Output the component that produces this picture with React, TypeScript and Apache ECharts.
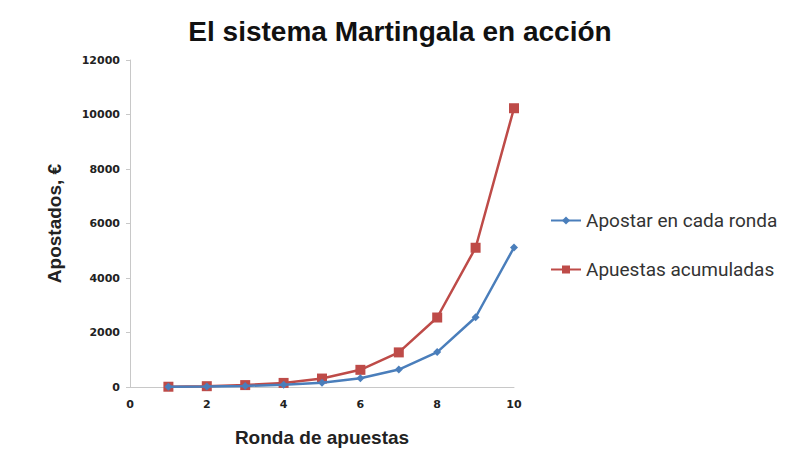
import React, { useEffect, useRef } from "react";
import * as echarts from "echarts";

const rounds = [1, 2, 3, 4, 5, 6, 7, 8, 9, 10];
const betPerRound = [10, 20, 40, 80, 160, 320, 640, 1280, 2560, 5120];
const cumulative = [10, 30, 70, 150, 310, 630, 1270, 2550, 5110, 10230];
const seriesNames = ["Apostar en cada ronda", "Apuestas acumuladas"];

export default function App() {
  const ref = useRef<HTMLDivElement>(null);
  useEffect(() => {
    const chart = echarts.init(ref.current!, null, { renderer: "svg" });
    const axisLabel = {
      color: "#222",
      fontSize: 11,
      fontWeight: "bold",
      fontFamily: "DejaVu Sans",
      formatter: (v: number) => String(v),
    };
    const nameStyle = { fontSize: 19, fontWeight: "bold", color: "#222", fontFamily: "Liberation Sans" };
    chart.setOption({
      animation: false,
      backgroundColor: "#fff",
      title: {
        text: "El sistema Martingala en acción",
        left: 395,
        textAlign: "center",
        top: 12,
        textStyle: { fontSize: 28, fontWeight: "bold", color: "#111", fontFamily: "Liberation Sans" },
      },
      legend: {
        orient: "vertical",
        left: 545,
        top: 206,
        itemGap: 30,
        itemWidth: 30,
        itemHeight: 10,
        textStyle: { fontSize: 19, color: "#333", fontFamily: "Roboto" },
        data: seriesNames,
      },
      grid: { left: 130, right: 286, top: 60, bottom: 67, outerBoundsMode: "none", containLabel: false },
      xAxis: {
        type: "value",
        min: 0,
        max: 10,
        interval: 2,
        name: "Ronda de apuestas",
        nameLocation: "middle",
        nameGap: 41,
        nameTextStyle: nameStyle,
        axisLine: { lineStyle: { color: "#c8c8c8" } },
        axisTick: { show: false },
        splitLine: { show: false },
        axisLabel: { ...axisLabel, margin: 12 },
      },
      yAxis: {
        type: "value",
        min: 0,
        max: 12000,
        interval: 2000,
        name: "Apostados, €",
        nameLocation: "middle",
        nameGap: 66,
        nameTextStyle: nameStyle,
        axisLine: { show: true, lineStyle: { color: "#c8c8c8" } },
        axisTick: { show: true, length: 4, lineStyle: { color: "#c8c8c8" } },
        splitLine: { show: false },
        axisLabel: { ...axisLabel, margin: 10 },
      },
      series: [
        {
          name: seriesNames[0],
          type: "line",
          data: rounds.map((r, i) => [r, betPerRound[i]]),
          symbol: "diamond",
          symbolSize: 8,
          itemStyle: { color: "#4a7ebb" },
          lineStyle: { color: "#4a7ebb", width: 2.5 },
          z: 3,
        },
        {
          name: seriesNames[1],
          type: "line",
          data: rounds.map((r, i) => [r, cumulative[i]]),
          symbol: "rect",
          symbolSize: 10,
          itemStyle: { color: "#be4b48" },
          lineStyle: { color: "#be4b48", width: 2.5 },
          z: 2,
        },
      ],
    });
    return () => chart.dispose();
  }, []);
  return (
    <div
      ref={ref}
      style={{ position: "fixed", left: 0, top: 0, width: 800, height: 454 }}
    />
  );
}
